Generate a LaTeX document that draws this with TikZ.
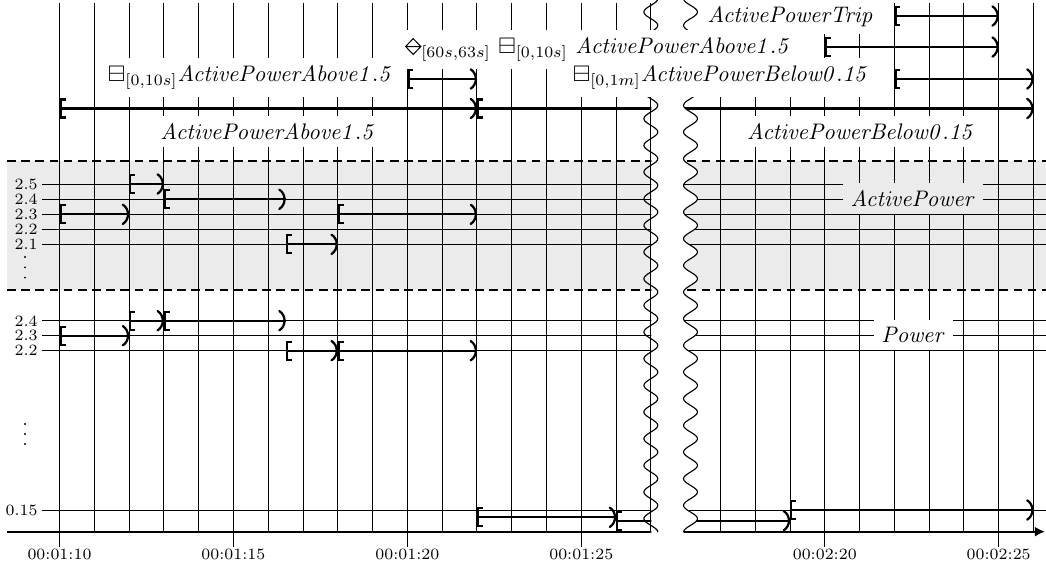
\documentclass[tikz,border=0pt]{standalone}
\usepackage{amssymb}
\usetikzlibrary{arrows.meta}
\definecolor{band}{HTML}{EBEBEB}
\tikzset{
  gridline/.style={line width=0.42pt},
  dashrule/.style={line width=0.9pt,dash pattern=on 3.9pt off 2.4pt},
  ivL/.style={line width=1pt,{Bracket[width=9pt,length=2.2pt]}-},
  ivN/.style={line width=1pt},
  rpar/.pic={\draw[line width=1pt,line cap=round,x=1pt,y=1pt] (-2.8,4.3) .. controls (0.3,2.4) and (0.3,-2.4) .. (-2.8,-4.3);},
  lab/.style={fill=white,inner sep=0.3333em,anchor=base},
  ticklab/.style={font=\scriptsize,inner sep=0pt},
  wave/.style={line width=0.5pt},
}
\newcommand{\dmin}{\tikz[x=1pt,y=1pt,baseline=0pt]{\draw[line width=0.45pt] (0,3.1)--(3.4,6.6)--(6.8,3.1)--(3.4,-0.4)--cycle (0,3.1)--(6.8,3.1);}}
% interval [#1,#2) at height #3
\newcommand{\ivlr}[3]{\draw[ivL] (#1,#3) -- (#2,#3); \pic at (#2,#3) {rpar};}
\begin{document}
\begin{tikzpicture}[x=15.459pt,y=-0.4444pt]
\useasboundingbox (-1.7105,0) rectangle (28.36,572);
% grey band
\fill[band] (-1.509,161) rectangle (28.36,290);
% horizontal value lines
\foreach \yy in {184,199.3,214.3,229.3,244.3,320.7,335.7,350.7,510}
  \draw[gridline] (-0.503,\yy) -- (28.36,\yy);
% vertical time lines
\foreach \i in {0,...,17,19,20,...,28}
  \draw[gridline] (\i,3) -- (\i,531.7);
% dashed band borders
\draw[dashrule] (-1.509,161) -- (28.36,161);
\draw[dashrule] (-1.509,290) -- (28.36,290);
% time axis
\draw[line width=0.9pt,-{Latex[length=4.5pt,width=4.5pt]}] (-1.509,531.7) -- (28.33,531.7);
\foreach \i/\tlab in {0/00:01:10,5/00:01:15,10/00:01:20,15/00:01:25,22/00:02:20,27/00:02:25} {
  \draw[gridline] (\i,531.7) -- (\i,547);
  \node[ticklab,anchor=base] (t\i) at (\i,559.3) {\tlab};
}
% intervals crossing the break
\draw[ivL] (12,108.5) -- (17.5,108.5);
\draw[ivN] (17.5,108.5) -- (28,108.5); \pic at (28,108.5) {rpar};
\draw[ivL] (16,520.7) -- (17.5,520.7);
\draw[ivN] (17.5,520.7) -- (21,520.7); \pic at (21,520.7) {rpar};
% break
\fill[white] plot[domain=-2:534,samples=300,variable=\s] ({18.14+0.201*cos(13.4983*(\s-12))},\s) -- (17.015,534) -- (17.015,-2) -- cycle;
\draw[wave] plot[domain=0:532,samples=300,smooth,variable=\s] ({17-0.201*cos(13.4983*(\s-12))},\s);
\draw[wave] plot[domain=0:532,samples=300,smooth,variable=\s] ({18.14+0.201*cos(13.4983*(\s-12))},\s);
% labels
\node[lab] (rowA) at (21.02,22) {$\mathit{ActivePowerTrip}$};
\node[lab] (rowB) at (15.48,53.5) {${\dmin}_{[60s,63s]}\ {\boxminus}_{[0,10s]}\ \mathit{ActivePowerAbove1.5}$};
\node[lab] (rowCl) at (5.49,81) {${\boxminus}_{[0,10s]}\mathit{ActivePowerAbove1.5}$};
\node[lab] (rowCr) at (19.01,81) {${\boxminus}_{[0,1m]}\mathit{ActivePowerBelow0.15}$};
\node[lab] (segL) at (6,139.3) {$\mathit{ActivePowerAbove1.5}$};
\node[lab] (segR) at (23.04,139.3) {$\mathit{ActivePowerBelow0.15}$};
\node[lab,fill=band] (apw) at (24.54,206) {$\mathit{ActivePower}$};
\node[lab] (pw) at (24.55,342.5) {$\mathit{Power}$};
% value labels
\foreach \yy/\v [count=\k] in {184/2.5,199.3/2.4,214.3/2.3,229.3/2.2,244.3/2.1,320.7/2.4,335.7/2.3,350.7/2.2,510/0.15}
  \node[ticklab,anchor=east] (yl\k) at (-0.618,\yy) {\v};
\foreach \yy in {257,267.3,277.7,424,434,444}
  \fill (-0.992,\yy) circle (0.45pt);
% intervals
\ivlr{24}{27}{16}
\ivlr{22}{27}{47}
\ivlr{10}{12}{79}
\ivlr{24}{28}{79}
\ivlr{0}{12}{108.5}
% ActivePower
\ivlr{0}{2}{214.3}
\ivlr{2}{3}{184}
\ivlr{3}{6.5}{199.3}
\ivlr{6.5}{8}{244.3}
\ivlr{8}{12}{214.3}
% Power
\ivlr{0}{2}{335.7}
\ivlr{2}{3}{320.7}
\ivlr{3}{6.5}{320.7}
\ivlr{6.5}{8}{350.7}
\ivlr{8}{12}{350.7}
\ivlr{12}{16}{517.3}
\ivlr{21}{28}{510}
\end{tikzpicture}
\end{document}
